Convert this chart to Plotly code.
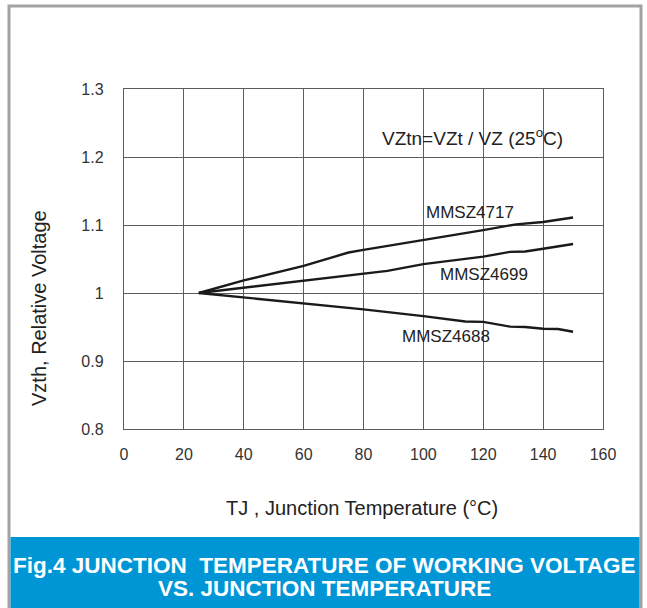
import plotly.graph_objects as go

# ---- data ----
tj_4717 = [25, 40, 60, 75, 80, 100, 120, 131, 140, 150]
vz_4717 = [1.0, 1.0185, 1.040, 1.0595, 1.0635, 1.0775, 1.0925, 1.101, 1.1045, 1.111]

tj_4699 = [25, 40, 60, 80, 88, 100, 120, 129, 134, 140, 150]
vz_4699 = [1.0, 1.0075, 1.0185, 1.0275, 1.0325, 1.0425, 1.0535, 1.0605, 1.061, 1.065, 1.072]

tj_4688 = [25, 40, 60, 80, 100, 114, 120, 129, 134, 140, 145, 150]
vz_4688 = [1.0, 0.9935, 0.9845, 0.976, 0.966, 0.958, 0.9575, 0.9505, 0.950, 0.9475, 0.947, 0.943]

x_ticks = [0, 20, 40, 60, 80, 100, 120, 140, 160]
y_ticks = [0.8, 0.9, 1.0, 1.1, 1.2, 1.3]
y_tick_text = ["0.8", "0.9", "1", "1.1", "1.2", "1.3"]

series_names = ["MMSZ4717", "MMSZ4699", "MMSZ4688"]

# ---- layout geometry (pixels) ----
W, H = 647, 608
L, R, T, B = 124, 603, 89, 429


def px(x):
    return (x - L) / (R - L)


def py(y):
    return (B - y) / (B - T)


FONT = "Liberation Sans, Arial, sans-serif"
NARROW = "Liberation Sans Narrow, Arial Narrow, Liberation Sans, sans-serif"

fig = go.Figure()
for xs, ys, name in zip([tj_4717, tj_4699, tj_4688], [vz_4717, vz_4699, vz_4688], series_names):
    fig.add_trace(go.Scatter(x=xs, y=ys, mode="lines", name=name,
                             line=dict(color="#1a1a1a", width=2.4), showlegend=False,
                             hoverinfo="skip"))

axis_common = dict(showgrid=True, gridcolor="#5c5c5c", gridwidth=1.2,
                   showline=True, linecolor="#5c5c5c", linewidth=1.4, mirror=True,
                   zeroline=False, ticks="", tickfont=dict(family=NARROW, size=16, color="#333333"))

fig.update_xaxes(range=[0, 160], tickvals=x_ticks, ticklabelstandoff=11, **axis_common)
fig.update_yaxes(range=[0.8, 1.3], tickvals=y_ticks, ticktext=y_tick_text,
                 ticklabelstandoff=16, **axis_common)

shapes = []
# outer gray frame
shapes.append(dict(type="rect", xref="paper", yref="paper",
                   x0=px(9), x1=px(641), y0=py(620), y1=py(6),
                   line=dict(color="#a3a3a3", width=3), fillcolor="rgba(0,0,0,0)", layer="below"))
# blue banner
shapes.append(dict(type="rect", xref="paper", yref="paper",
                   x0=px(10.5), x1=px(639.5), y0=py(620), y1=py(537),
                   line=dict(width=0), fillcolor="#0096d6", layer="above"))
# white boxes hiding grid behind labels
for (x0, x1, y0, y1) in [(375, 570, 125, 146), (421, 517, 195, 227), (427, 535, 260, 294)]:
    shapes.append(dict(type="rect", xref="paper", yref="paper",
                       x0=px(x0), x1=px(x1), y0=py(y1), y1=py(y0),
                       line=dict(width=0), fillcolor="white", layer="between"))

annotations = []


def ann(text, x, y, size=17, family=FONT, color="#222222", angle=0):
    annotations.append(dict(text=text, xref="paper", yref="paper", x=px(x), y=py(y),
                            xanchor="center", yanchor="middle", showarrow=False,
                            textangle=angle, font=dict(family=family, size=size, color=color)))


ann("VZtn=VZt / VZ (25<sup>o</sup>C)", 472, 137, size=19)
ann(series_names[0], 470, 212)
ann(series_names[1], 484, 274)
ann(series_names[2], 446, 336)
ann("TJ , Junction Temperature (°C)", 362, 508, size=20)
ann("Vzth, Relative Voltage", 39, 308, size=20, angle=-90)
ann("<b>Fig.4 JUNCTION \u00a0TEMPERATURE OF WORKING VOLTAGE</b>", 324, 565, size=22.5,
    family=NARROW, color="white")
ann("<b>VS. JUNCTION TEMPERATURE</b>", 324, 588, size=22.5, family=NARROW, color="white")

fig.update_layout(width=W, height=H, margin=dict(l=L, r=W - R, t=T, b=H - B, pad=0),
                  paper_bgcolor="white", plot_bgcolor="white",
                  shapes=shapes, annotations=annotations)

fig.write_html("out.html", config={"displayModeBar": False},
               post_script="document.body.style.margin='0';")
